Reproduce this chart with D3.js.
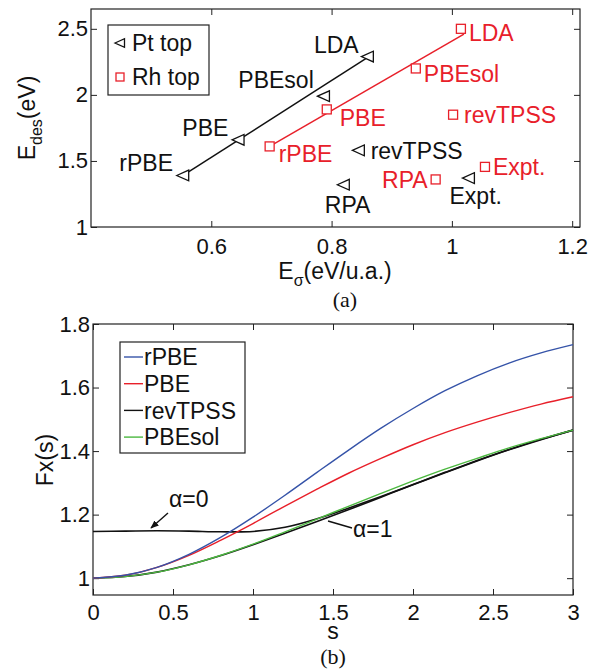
<!DOCTYPE html>
<html><head><meta charset="utf-8">
<script src="https://cdn.jsdelivr.net/npm/d3@7"></script>
<style>
body{margin:0;background:#fff}
text{font-family:"Liberation Sans",Arial,Helvetica,sans-serif;}
</style>
</head><body>
<svg id="c" width="598" height="671"></svg>
<script>
// ---------- panel (a) data ----------
const methods = ["rPBE","PBE","PBEsol","LDA","revTPSS","RPA","Expt."];
const ptEsigma = [0.553,0.645,0.787,0.860,0.845,0.820,1.028];
const ptEdes   = [1.39, 1.66, 1.99, 2.29, 1.58, 1.32, 1.37];
const rhEsigma = [0.697,0.792,0.940,1.015,1.002,0.973,1.055];
const rhEdes   = [1.61, 1.89, 2.20, 2.50, 1.85, 1.36, 1.455];
const ptFitX = [0.553, 0.862], ptFitY = [1.39, 2.29];
const rhFitX = [0.697, 1.020], rhFitY = [1.61, 2.46];
const aXTicks = [0.6, 0.8, 1, 1.2];
const aYTicks = [1, 1.5, 2, 2.5];
const aLegend = ["Pt top", "Rh top"];

// ---------- panel (b) data ----------
const sValues   = [0,0.2,0.4,0.6,0.8,1.0,1.2,1.4,1.6,1.8,2.0,2.2,2.4,2.6,2.8,3.0];
const fxRPBE    = [1,1.009,1.034,1.075,1.129,1.192,1.261,1.333,1.404,1.472,1.534,1.590,1.637,1.677,1.709,1.735];
const fxPBE     = [1,1.009,1.034,1.072,1.120,1.172,1.227,1.280,1.331,1.377,1.420,1.458,1.491,1.521,1.548,1.571];
const fxPBEsol  = [1,1.005,1.019,1.042,1.072,1.107,1.146,1.186,1.227,1.267,1.306,1.343,1.377,1.410,1.439,1.466];
const fxRevA1   = [1,1.005,1.019,1.042,1.071,1.105,1.141,1.178,1.216,1.255,1.294,1.332,1.369,1.404,1.436,1.466];
const fxRevA0   = [1.147,1.148,1.149,1.148,1.146,1.147,1.160,1.187,1.221,1.257,1.295,1.333,1.370,1.405,1.437,1.466];
const bXTicks = [0,0.5,1,1.5,2,2.5,3];
const bYTicks = [1,1.2,1.4,1.6,1.8];
const bLegend = ["rPBE","PBE","revTPSS","PBEsol"];

// ---------- styling / layout ----------
const RED = "#e8202a", BLUE = "#3553a8", GREEN = "#4cb840", BLACK = "#111";
const FS = 23, TFS = 22;
const svg = d3.select("#c");
svg.append("rect").attr("width",598).attr("height",671).attr("fill","#fff");

function styleAxis(g, labels){
  g.selectAll(".domain").remove();
  g.selectAll(".tick line").attr("stroke","#222").attr("stroke-width",1);
  g.selectAll("text").attr("font-size",TFS).attr("fill","#111")
    .attr("font-family",'"Liberation Sans",Arial,sans-serif');
  if(!labels) g.selectAll("text").remove();
}

function frame(x, y, xt, yt, pad){
  const [x0,x1] = x.range(), [y0,y1] = y.range(); // y0 bottom
  const g = svg.append("g");
  g.append("g").attr("transform",`translate(0,${y0})`)
    .call(d3.axisBottom(x).tickValues(xt).tickSizeInner(-6).tickSizeOuter(0).tickPadding(pad).tickFormat(d3.format("~g")))
    .call(a=>styleAxis(a,true));
  g.append("g").attr("transform",`translate(0,${y1})`)
    .call(d3.axisTop(x).tickValues(xt).tickSizeInner(-6).tickSizeOuter(0))
    .call(a=>styleAxis(a,false));
  g.append("g").attr("transform",`translate(${x0},0)`)
    .call(d3.axisLeft(y).tickValues(yt).tickSizeInner(-6).tickSizeOuter(0).tickPadding(3).tickFormat(d3.format("~g")))
    .call(a=>styleAxis(a,true));
  g.append("g").attr("transform",`translate(${x1},0)`)
    .call(d3.axisRight(y).tickValues(yt).tickSizeInner(-6).tickSizeOuter(0))
    .call(a=>styleAxis(a,false));
  g.append("rect").attr("x",x0).attr("y",y1).attr("width",x1-x0).attr("height",y0-y1)
    .attr("fill","none").attr("stroke","#222").attr("stroke-width",1.2);
  return g;
}

// ================= Panel (a) =================
const xa = d3.scaleLinear().domain([0.4,1.213]).range([91,580]);
const ya = d3.scaleLinear().domain([1,2.65]).range([227,9]);
frame(xa, ya, aXTicks, aYTicks, 11);

const tri = (cx,cy,s=6)=>`M${cx-s},${cy} L${cx+s*0.9},${cy-s*0.85} L${cx+s*0.9},${cy+s*0.85} Z`;
const line2 = d3.line().x(d=>xa(d[0])).y(d=>ya(d[1]));

svg.append("path").attr("d", line2(d3.zip(ptFitX,ptFitY))).attr("stroke",BLACK).attr("stroke-width",1.5).attr("fill","none");
svg.append("path").attr("d", line2(d3.zip(rhFitX,rhFitY))).attr("stroke",RED).attr("stroke-width",1.5).attr("fill","none");

const ptPts = methods.map((m,i)=>({m, x:ptEsigma[i], y:ptEdes[i]}));
const rhPts = methods.map((m,i)=>({m, x:rhEsigma[i], y:rhEdes[i]}));

svg.append("g").selectAll("path").data(ptPts).join("path")
  .attr("d", d=>tri(xa(d.x), ya(d.y), 6.3))
  .attr("fill","#fff").attr("stroke",BLACK).attr("stroke-width",1.3);
svg.append("g").selectAll("rect").data(rhPts).join("rect")
  .attr("x", d=>xa(d.x)-4.5).attr("y", d=>ya(d.y)-4.5).attr("width",9).attr("height",9)
  .attr("fill","#fff").attr("stroke",RED).attr("stroke-width",1.3);

// label offsets (layout only): [dx, dy, anchor]
const ptLabelPos = [[-10,-13,"end"],[-10,-12,"end"],[-10,-16,"end"],[-9,-12,"end"],[12,0,"start"],[4,20,"middle"],[7,18,"middle"]];
const rhLabelPos = [[9,7,"start"],[13,8,"start"],[8,5,"start"],[8,4,"start"],[11,0,"start"],[-8,0,"end"],[8,0,"start"]];

svg.append("g").selectAll("text").data(ptPts).join("text")
  .attr("x",(d,i)=>xa(d.x)+ptLabelPos[i][0]).attr("y",(d,i)=>ya(d.y)+ptLabelPos[i][1])
  .attr("text-anchor",(d,i)=>ptLabelPos[i][2]).attr("dy","0.36em")
  .attr("font-size",FS).attr("fill",BLACK).text(d=>d.m);
svg.append("g").selectAll("text").data(rhPts).join("text")
  .attr("x",(d,i)=>xa(d.x)+rhLabelPos[i][0]).attr("y",(d,i)=>ya(d.y)+rhLabelPos[i][1])
  .attr("text-anchor",(d,i)=>rhLabelPos[i][2]).attr("dy","0.36em")
  .attr("font-size",FS).attr("fill",RED).text(d=>d.m);

// legend (a)
const lgA = svg.append("g");
lgA.append("rect").attr("x",108).attr("y",25).attr("width",101).attr("height",70)
  .attr("fill","#fff").attr("stroke","#222").attr("stroke-width",1.2);
lgA.append("path").attr("d",tri(120,43,5)).attr("fill","#fff").attr("stroke",BLACK).attr("stroke-width",1.3);
lgA.append("rect").attr("x",116).attr("y",73).attr("width",8).attr("height",8).attr("fill","#fff").attr("stroke",RED).attr("stroke-width",1.3);
lgA.selectAll("text").data(aLegend).join("text")
  .attr("x",132).attr("y",(d,i)=>43+i*34).attr("dy","0.36em").attr("font-size",FS).attr("fill","#111").text(d=>d);

// axis labels (a)
const yl = svg.append("text").attr("transform","translate(35,118) rotate(-90)").attr("text-anchor","middle").attr("font-size",FS).attr("fill","#111");
yl.append("tspan").text("E");
yl.append("tspan").attr("font-size",16).attr("dy",7).text("des");
yl.append("tspan").attr("dy",-7).text("(eV)");
const xl = svg.append("text").attr("x",335).attr("y",279).attr("text-anchor","middle").attr("font-size",FS).attr("fill","#111");
xl.append("tspan").text("E");
xl.append("tspan").attr("font-size",16).attr("dy",7).text("σ");
xl.append("tspan").attr("dy",-7).text("(eV/u.a.)");
svg.append("text").attr("x",345).attr("y",307).attr("text-anchor","middle")
  .style("font-family",'"Liberation Serif",serif')
  .attr("font-size",22).attr("fill","#111").text("(a)");

// ================= Panel (b) =================
const xb = d3.scaleLinear().domain([0,3]).range([93,573]);
const yb = d3.scaleLinear().domain([0.947,1.8]).range([595,324]);
frame(xb, yb, bXTicks, bYTicks, 9);

const lineB = d3.line().x(d=>xb(d[0])).y(d=>yb(d[1])).curve(d3.curveCatmullRom);
const series = [
  {v:fxRevA0, c:BLACK, w:1.6},
  {v:fxRevA1, c:BLACK, w:1.6},
  {v:fxPBEsol, c:GREEN, w:1.4},
  {v:fxPBE, c:RED, w:1.4},
  {v:fxRPBE, c:BLUE, w:1.4}
];
svg.append("g").selectAll("path").data(series).join("path")
  .attr("d", d=>lineB(d3.zip(sValues,d.v)))
  .attr("fill","none").attr("stroke",d=>d.c).attr("stroke-width",d=>d.w);

// legend (b)
const lgB = svg.append("g");
const lgColors = [BLUE, RED, BLACK, GREEN];
lgB.append("rect").attr("x",120).attr("y",342).attr("width",125).attr("height",111)
  .attr("fill","#fff").attr("stroke","#222").attr("stroke-width",1.2);
lgB.selectAll("line").data(bLegend).join("line")
  .attr("x1",124).attr("x2",143).attr("y1",(d,i)=>357+i*26.7).attr("y2",(d,i)=>357+i*26.7)
  .attr("stroke",(d,i)=>lgColors[i]).attr("stroke-width",1.4);
lgB.selectAll("text").data(bLegend).join("text")
  .attr("x",144).attr("y",(d,i)=>357+i*26.7).attr("dy","0.36em").attr("font-size",FS).attr("fill","#111").text(d=>d);

// annotations
svg.append("defs").append("marker").attr("id","ah").attr("viewBox","0 0 10 10").attr("refX",9).attr("refY",5)
  .attr("markerWidth",6).attr("markerHeight",6).attr("orient","auto")
  .append("path").attr("d","M0,1 L10,5 L0,9 Z").attr("fill","#111");
svg.append("line").attr("x1",168).attr("y1",513).attr("x2",151).attr("y2",528)
  .attr("stroke","#111").attr("stroke-width",1.4).attr("marker-end","url(#ah)");
svg.append("text").attr("x",169).attr("y",507).attr("font-size",FS).attr("fill","#111").text("α=0");
svg.append("line").attr("x1",352).attr("y1",528).attr("x2",328).attr("y2",521)
  .attr("stroke","#111").attr("stroke-width",1.4);
svg.append("text").attr("x",353).attr("y",537).attr("font-size",FS).attr("fill","#111").text("α=1");

// axis labels (b)
svg.append("text").attr("transform","translate(53,460) rotate(-90)").attr("text-anchor","middle")
  .attr("font-size",FS).attr("fill","#111").text("Fx(s)");
svg.append("text").attr("x",333).attr("y",639).attr("text-anchor","middle").attr("font-size",FS).attr("fill","#111").text("s");
svg.append("text").attr("x",333).attr("y",664).attr("text-anchor","middle")
  .style("font-family",'"Liberation Serif",serif').attr("font-size",22).attr("fill","#111").text("(b)");
</script>
</body></html>
